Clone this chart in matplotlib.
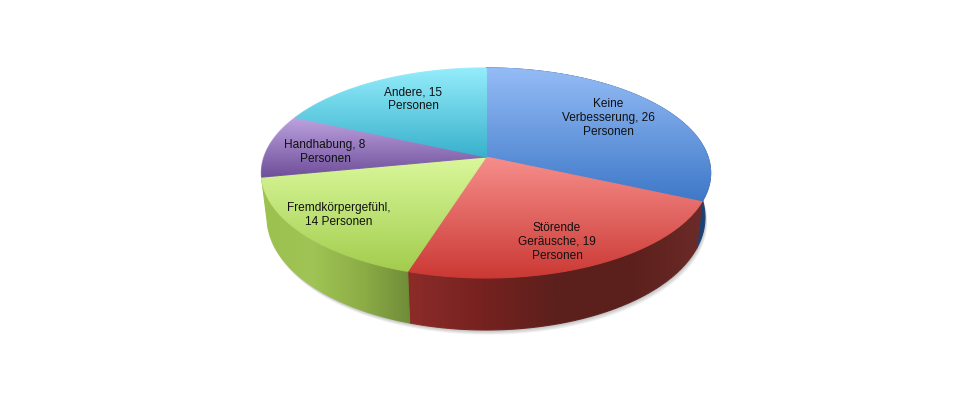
import matplotlib
matplotlib.use("Agg")
import matplotlib.pyplot as plt
import numpy as np
from matplotlib.collections import LineCollection
from matplotlib.colors import LinearSegmentedColormap
from matplotlib.patches import Polygon

plt.rcParams['font.family'] = ['Liberation Sans', 'DejaVu Sans']

# slices, clockwise from the top
values = [26, 19, 14, 8, 15]
labels = ["Keine\nVerbesserung, 26\nPersonen",
          "Störende\nGeräusche, 19\nPersonen",
          "Fremdkörpergefühl,\n14 Personen",
          "Handhabung, 8\nPersonen",
          "Andere, 15\nPersonen"]

# label centres in pixels
label_x = [608, 557, 339, 325, 413]
label_y = [118, 242, 215, 152, 99]

top_colors = [("#94BCF6", "#3E78C8"), ("#F68E8B", "#CB3934"), ("#DAF89C", "#A3CD4E"),
              ("#BDA3E0", "#6F4F9A"), ("#95EDFB", "#39B1CC")]
# only the front three slices show a wall
wall_colors = [["#17365F", "#1E4273"], ["#8C2C29", "#762220", "#5C201C", "#5B1F1C", "#6C2B28"],
               ["#9DC14F", "#A0C455", "#8DAE47", "#6F8C38"]]

cx, cy = 486, 157
rx, ry = 222, 102.6
persp = 0.152


def top_rim(t):
    u, v = np.sin(t), -np.cos(t)
    d = 1 - persp * v
    return cx + rx * u / d, cy + ry * v / d


def bottom_rim(t):
    x, y = top_rim(t)
    v = -np.cos(t)
    return cx + (x - cx) * 0.975, y + 43 + 9 * v


def gradient(pts, colors, horizontal, ax):
    cmap = LinearSegmentedColormap.from_list("g", colors)
    x0, x1 = pts[:, 0].min(), pts[:, 0].max()
    y0, y1 = pts[:, 1].min(), pts[:, 1].max()
    ramp = np.linspace(0, 1, 256)
    ramp = ramp[None, :] if horizontal else ramp[:, None]
    im = ax.imshow(ramp, cmap=cmap, extent=[x0, x1, y1, y0], aspect="auto", vmin=0, vmax=1,
                   interpolation="bilinear", zorder=ax.zorder_next)
    im.set_clip_path(Polygon(pts, closed=True, transform=ax.transData))
    # soft edge, clip paths are not antialiased
    closed = np.vstack([pts, pts[:1]])
    fine = []
    for a, b in zip(closed[:-1], closed[1:]):
        n = max(int(np.hypot(*(b - a)) / 3), 1)
        s = np.linspace(0, 1, n + 1)[:, None]
        fine.append(a + (b - a) * s)
    segs = np.concatenate([np.stack([f[:-1], f[1:]], axis=1) for f in fine])
    mid = segs.mean(axis=1)
    pos = (mid[:, 0] - x0) / (x1 - x0) if horizontal else (mid[:, 1] - y0) / (y1 - y0)
    lc = LineCollection(segs, colors=cmap(pos), linewidths=0.8, zorder=ax.zorder_next)
    ax.add_collection(lc)
    ax.zorder_next += 1


fig = plt.figure(figsize=(9.8, 4), dpi=100)
ax = fig.add_axes([0, 0, 1, 1])
ax.zorder_next = 2

edges = np.cumsum([0] + values) / sum(values) * 2 * np.pi

# shadow under the body
full = np.linspace(edges[0], edges[3], 300)
bx, by = bottom_rim(full)
for off in [6, 5, 4, 3, 2, 1]:
    ax.fill(bx + off * 0.4, by + off * 0.8, color="#000000", alpha=0.045, lw=0, zorder=1)

# walls, then top faces
for i in range(len(wall_colors)):
    t = np.linspace(edges[i], edges[i + 1], 120)
    xt, yt = top_rim(t)
    xb, yb = bottom_rim(t)
    pts = np.column_stack([np.r_[xt, xb[::-1]], np.r_[yt, yb[::-1]]])
    gradient(pts, wall_colors[i], True, ax)

for i in range(len(values)):
    t = np.linspace(edges[i], edges[i + 1], 120)
    xt, yt = top_rim(t)
    pts = np.column_stack([np.r_[cx, xt], np.r_[cy, yt]])
    gradient(pts, top_colors[i], False, ax)

for i in range(len(labels)):
    ax.text(label_x[i], label_y[i], labels[i], ha="center", va="center", fontsize=8.55,
            color="#111111", linespacing=1.2, zorder=100)

ax.set_xlim(0, 980)
ax.set_ylim(400, 0)
ax.axis("off")
fig.savefig("out.png", dpi=100, facecolor="white")
